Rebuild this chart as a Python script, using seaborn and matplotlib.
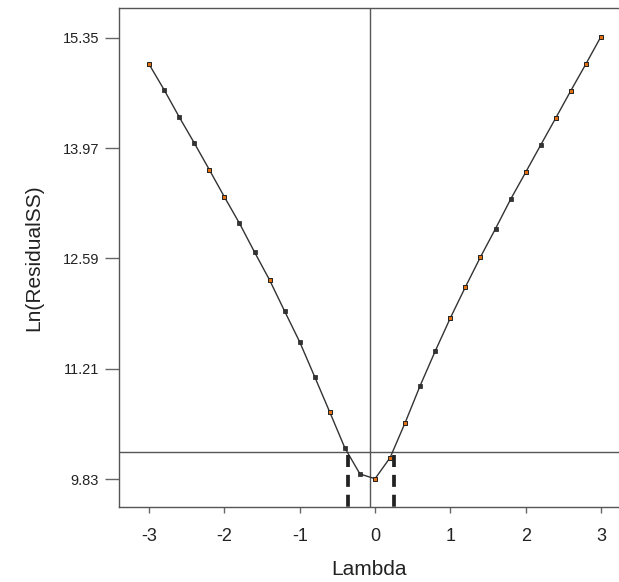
import numpy as np
import matplotlib
matplotlib.use("Agg")
import matplotlib.pyplot as plt
import seaborn as sns
import pandas as pd

sns.set_style("ticks")
plt.rcParams['font.family'] = ['Liberation Sans', 'DejaVu Sans']

# Box-Cox style profile: lambda vs ln(residual SS)
lam = [-3.0, -2.8, -2.6, -2.4, -2.2, -2.0, -1.8, -1.6, -1.4, -1.2, -1.0,
       -0.8, -0.6, -0.4, -0.2, 0.0, 0.2, 0.4, 0.6, 0.8, 1.0,
       1.2, 1.4, 1.6, 1.8, 2.0, 2.2, 2.4, 2.6, 2.8, 3.0]
lnrss = [15.02, 14.70, 14.36, 14.035, 13.70, 13.36, 13.03, 12.67, 12.32, 11.93, 11.545,
         11.107, 10.665, 10.218, 9.893, 9.834, 10.097, 10.535, 11.00, 11.432, 11.845,
         12.233, 12.608, 12.963, 13.33, 13.668, 14.01, 14.348, 14.69, 15.024, 15.366]
orange_pts = [-3.0, -2.2, -2.0, -1.4, -0.6, 0.0, 0.2, 0.4, 1.0, 1.2, 1.4, 2.0, 2.4, 2.6, 2.8, 3.0]

best_lam = -0.066
cutoff = 10.164
ci_low, ci_high = -0.36, 0.25

yticks = [9.83, 11.21, 12.59, 13.97, 15.35]
xticks = [-3, -2, -1, 0, 1, 2, 3]

df = pd.DataFrame({"Lambda": lam, "LnRSS": lnrss})
df["hl"] = df["Lambda"].round(1).isin(orange_pts)

fig = plt.figure(figsize=(6.19, 5.82), dpi=100)
ax = fig.add_axes([119/619, 1-507/582, 1-119/619, (507-8)/582])

sns.lineplot(data=df, x="Lambda", y="LnRSS", ax=ax, color="#333333", lw=1.0)
sns.scatterplot(data=df[~df.hl], x="Lambda", y="LnRSS", ax=ax, marker="s", s=6,
                color="#333333", edgecolor="#222222", linewidth=0.5, zorder=3)
sns.scatterplot(data=df[df.hl], x="Lambda", y="LnRSS", ax=ax, marker="s", s=8,
                color="#e07010", edgecolor="#222222", linewidth=0.7, zorder=3)

ymin, ymax = 9.48, 15.725
ax.set_xlim(-3.4, 3.24)
ax.set_ylim(ymin, ymax)

ax.axvline(best_lam, color="#555555", lw=1.0, zorder=1)
ax.axhline(cutoff, color="#555555", lw=1.0, zorder=1)
for xv in [ci_low, ci_high]:
    ax.plot([xv, xv], [cutoff, ymin], color="#222222", lw=2.7,
            linestyle=(4.5, (3.2, 2.1)), solid_capstyle="butt", zorder=2)

ax.set_xticks(xticks)
ax.set_xticklabels([str(t) for t in xticks])
ax.set_yticks(yticks)
ax.set_yticklabels(["%.2f" % t for t in yticks])
ax.tick_params(axis="x", length=4.3, width=1, color="#666666", labelsize=13,
               pad=10.5, labelcolor="#222222")
ax.tick_params(axis="y", length=10, width=1, color="#666666", labelsize=10.5,
               pad=4.3, labelcolor="#222222")

for s in ["left", "bottom", "top"]:
    ax.spines[s].set_color("#555555")
    ax.spines[s].set_linewidth(1.0)
ax.spines["right"].set_visible(False)

ax.set_xlabel("Lambda", fontsize=15, color="#222222", labelpad=11)
ax.set_ylabel("Ln(ResidualSS)", fontsize=15, color="#222222", labelpad=14)

fig.savefig("out.png", dpi=100)
